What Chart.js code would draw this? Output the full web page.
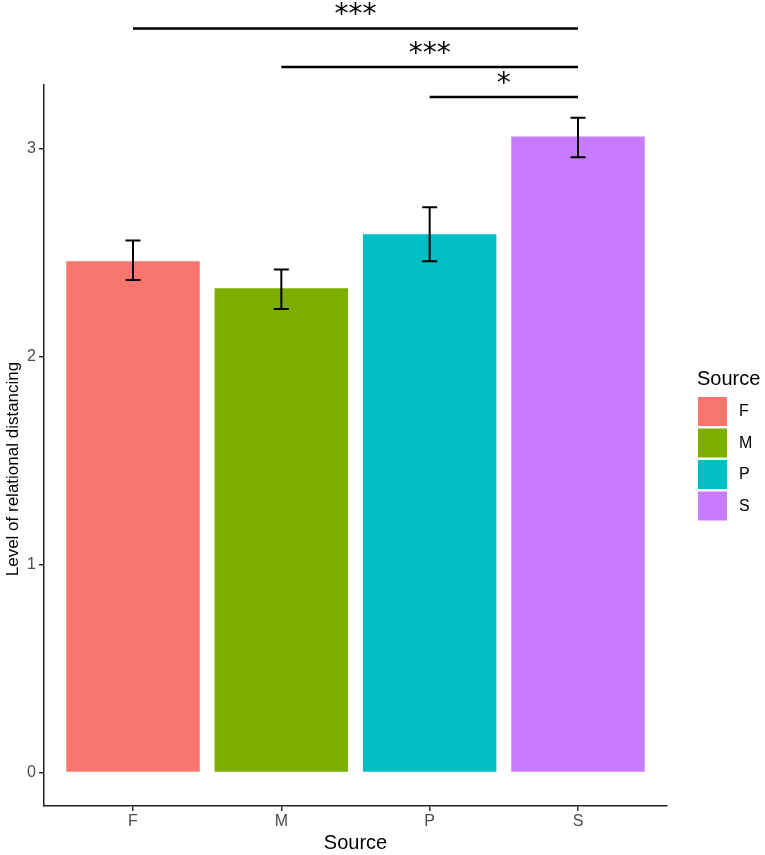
<!DOCTYPE html>
<html>
<head>
<meta charset="utf-8">
<script src="https://cdn.jsdelivr.net/npm/chart.js@4/dist/chart.umd.min.js"></script>
<style>
  html, body { margin: 0; padding: 0; background: #fff; }
  #wrap { width: 765px; height: 855px; }
</style>
</head>
<body>
<div id="wrap"><canvas id="chart"></canvas></div>
<script>
// data
const categories = ["F", "M", "P", "S"];
const means = [2.46, 2.33, 2.59, 3.06];
const errLow = [2.37, 2.23, 2.46, 2.96];
const errHigh = [2.56, 2.42, 2.72, 3.15];
const barColors = ["#F8766D", "#7CAE00", "#00BFC4", "#C77CFF"];
const yTicks = [0, 1, 2, 3];

// significance brackets (index of group, label, height in data units)
const sigFrom = [0, 1, 2];
const sigTo = [3, 3, 3];
const sigLabels = ["***", "***", "*"];
const sigLevels = [3.58, 3.395, 3.25];

const FONT = "'Liberation Sans', Arial, sans-serif";

// error bars, brackets, y title, legend
const extras = {
  id: "extras",
  afterDatasetsDraw(chart) {
    const { ctx, scales: { x, y } } = chart;
    ctx.save();
    ctx.strokeStyle = "#000";
    ctx.lineWidth = 2;
    categories.forEach((c, i) => {
      const px = x.getPixelForValue(i + 1);
      const top = y.getPixelForValue(errHigh[i]);
      const bot = y.getPixelForValue(errLow[i]);
      ctx.beginPath();
      ctx.moveTo(px, top); ctx.lineTo(px, bot);
      ctx.moveTo(px - 7.5, top); ctx.lineTo(px + 7.5, top);
      ctx.moveTo(px - 7.5, bot); ctx.lineTo(px + 7.5, bot);
      ctx.stroke();
    });

    // brackets
    ctx.lineWidth = 2.5;
    ctx.fillStyle = "#000";
    ctx.font = "28px 'DejaVu Sans'";
    ctx.textAlign = "center";
    ctx.textBaseline = "alphabetic";
    sigLabels.forEach((lab, k) => {
      const x1 = x.getPixelForValue(sigFrom[k] + 1);
      const x2 = x.getPixelForValue(sigTo[k] + 1);
      const py = y.getPixelForValue(sigLevels[k]);
      ctx.beginPath();
      ctx.moveTo(x1, py); ctx.lineTo(x2, py);
      ctx.stroke();
      ctx.fillText(lab, (x1 + x2) / 2, py - 5);
    });

    // y axis title
    ctx.save();
    ctx.translate(13, 469);
    ctx.rotate(-Math.PI / 2);
    ctx.font = "17px " + FONT;
    ctx.textBaseline = "middle";
    ctx.fillText("Level of relational distancing", 0, 0);
    ctx.restore();

    // legend
    ctx.textAlign = "left";
    ctx.textBaseline = "middle";
    ctx.font = "20px " + FONT;
    ctx.fillText("Source", 697, 379);
    ctx.font = "16px " + FONT;
    categories.forEach((c, i) => {
      const by = 397 + i * 31.5;
      ctx.fillStyle = barColors[i];
      ctx.fillRect(698, by, 29, 29);
      ctx.fillStyle = "#000";
      ctx.fillText(c, 739, by + 15);
    });
    ctx.restore();
  }
};

new Chart(document.getElementById("chart"), {
  type: "bar",
  data: {
    datasets: [{
      data: categories.map((c, i) => ({ x: i + 1, y: means[i] })),
      backgroundColor: barColors,
      borderWidth: 0,
      barPercentage: 0.9,
      categoryPercentage: 1
    }]
  },
  options: {
    responsive: true,
    maintainAspectRatio: false,
    animation: false,
    layout: { padding: { top: 85, right: 98, left: 0, bottom: 0 } },
    plugins: { legend: { display: false }, tooltip: { enabled: false } },
    scales: {
      x: {
        type: "linear",
        min: 0.4,
        max: 4.6,
        offset: false,
        afterBuildTicks: (s) => { s.ticks = categories.map((c, i) => ({ value: i + 1 })); },
        afterFit: (s) => { s.height = 49; s.paddingLeft = 0; s.paddingRight = 0; },
        grid: { display: true, offset: false, drawOnChartArea: false, tickLength: 5, color: "#333", lineWidth: 1.5 },
        border: { display: true, color: "#222", width: 1.5 },
        ticks: {
          padding: 1,
          color: "#4D4D4D",
          font: { family: FONT, size: 16 },
          callback: (v) => categories[v - 1]
        },
        title: {
          display: true,
          text: "Source",
          color: "#000",
          font: { family: FONT, size: 20 },
          padding: { top: 0, bottom: 0 }
        }
      },
      y: {
        min: -0.161,
        max: 3.308,
        afterBuildTicks: (s) => { s.ticks = yTicks.map((v) => ({ value: v })); },
        afterFit: (s) => { s.width = 44; s.paddingTop = 0; s.paddingBottom = 0; },
        grid: { display: true, drawOnChartArea: false, tickLength: 5, color: "#333", lineWidth: 1.5 },
        border: { display: true, color: "#222", width: 1.5 },
        ticks: {
          padding: 3,
          color: "#4D4D4D",
          font: { family: FONT, size: 16 }
        }
      }
    }
  },
  plugins: [extras]
});
</script>
</body>
</html>
